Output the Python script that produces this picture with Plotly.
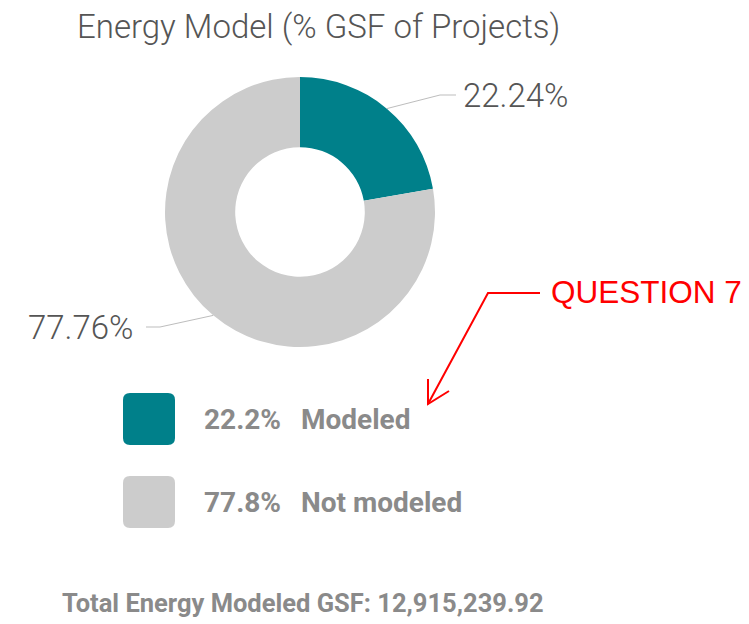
import math
import plotly.graph_objects as go

# ---- data ----
categories = ["Modeled", "Not modeled"]
shares = [22.24, 77.76]
legend_pct = ["22.2%", "77.8%"]
slice_colors = ["#00808A", "#CCCCCC"]
title_text = "Energy Model (% GSF of Projects)"
total_text = "Total Energy Modeled GSF: 12,915,239.92"
callout_text = "QUESTION 7"

W, H = 749, 624
OFF = 8  # page body margin
FW, FH = W - OFF, H - OFF
CX, CY, R = 300, 212, 135


def px(x):
    return (x - OFF) / FW


def py(y):
    return 1 - (y - OFF) / FH


fig = go.Figure()
fig.add_trace(go.Pie(
    labels=categories, values=shares, sort=False, direction="clockwise",
    rotation=0, hole=0.48, textinfo="none", hoverinfo="label+percent",
    marker=dict(colors=slice_colors, line=dict(width=0)),
    domain=dict(x=[px(CX - R), px(CX + R)], y=[py(CY + R), py(CY - R)]),
    showlegend=False,
))

shapes = []
annotations = []

# leader lines and outside labels computed from slice midpoints
label_pos = [(461, 95, "left"), (136, 327, "right")]
cum = 0.0
total = sum(shares)
for i, v in enumerate(shares):
    mid = (cum + v / 2) / total * 2 * math.pi
    cum += v
    sx = CX + R * math.sin(mid)
    sy = CY - R * math.cos(mid)
    lx, ly, side = label_pos[i]
    if side == "left":
        ex, hx = lx - 21, lx - 5
    else:
        ex, hx = lx + 24, lx + 10
    shapes.append(dict(type="path", xref="x", yref="y",
                       path=f"M{sx:.1f},{sy:.1f} L{ex},{ly} L{hx},{ly}",
                       line=dict(color="#BDBDBD", width=1)))
    annotations.append(dict(x=lx, y=ly, xref="x", yref="y", text=f"{v:.2f}%",
                            showarrow=False, xanchor=side, yanchor="middle",
                            font=dict(family="Roboto", size=33, color="#555555", weight=300)))

# custom legend
sw_y = [419, 502]
for i, cat in enumerate(categories):
    x0, x1 = 123, 175
    y0, y1 = sw_y[i] - 26, sw_y[i] + 26
    r = 7
    p = (f"M{x0+r},{y0} L{x1-r},{y0} Q{x1},{y0} {x1},{y0+r} L{x1},{y1-r} Q{x1},{y1} {x1-r},{y1} "
         f"L{x0+r},{y1} Q{x0},{y1} {x0},{y1-r} L{x0},{y0+r} Q{x0},{y0} {x0+r},{y0} Z")
    shapes.append(dict(type="path", xref="x", yref="y", path=p,
                       fillcolor=slice_colors[i], line=dict(width=0)))
    annotations.append(dict(x=202, y=sw_y[i], xref="x", yref="y", text=legend_pct[i],
                            showarrow=False, xanchor="left", yanchor="middle",
                            font=dict(family="Roboto", size=28, color="#8A8A8A", weight=700)))
    annotations.append(dict(x=299, y=sw_y[i], xref="x", yref="y", text=cat,
                            showarrow=False, xanchor="left", yanchor="middle",
                            font=dict(family="Roboto", size=28, color="#8A8A8A", weight=700)))

# title
annotations.append(dict(x=318, y=26, xref="x", yref="y", text=title_text, showarrow=False,
                        xanchor="center", yanchor="middle",
                        font=dict(family="Roboto", size=33, color="#555555", weight=300)))
# total
annotations.append(dict(x=60, y=603, xref="x", yref="y", text=total_text, showarrow=False,
                        xanchor="left", yanchor="middle",
                        font=dict(family="Roboto", size=25.5, color="#8A8A8A", weight=700)))

# red callout
annotations.append(dict(x=549, y=292, xref="x", yref="y", text=callout_text, showarrow=False,
                        xanchor="left", yanchor="middle",
                        font=dict(family="Liberation Sans, Arial", size=31.5, color="#FF0000")))
shapes.append(dict(type="path", xref="x", yref="y",
                   path="M540,293 L488,293 L428,404", line=dict(color="#FF0000", width=2)))
shapes.append(dict(type="path", xref="x", yref="y",
                   path="M428,379 L428,404 L449,391", line=dict(color="#FF0000", width=2)))

fig.update_layout(
    width=FW, height=FH, margin=dict(l=0, r=0, t=0, b=0),
    paper_bgcolor="white", plot_bgcolor="white",
    xaxis=dict(range=[OFF, W], visible=False, fixedrange=True),
    yaxis=dict(range=[H, OFF], visible=False, fixedrange=True),
    shapes=shapes, annotations=annotations, showlegend=False,
)
fig.write_html("out.html")
